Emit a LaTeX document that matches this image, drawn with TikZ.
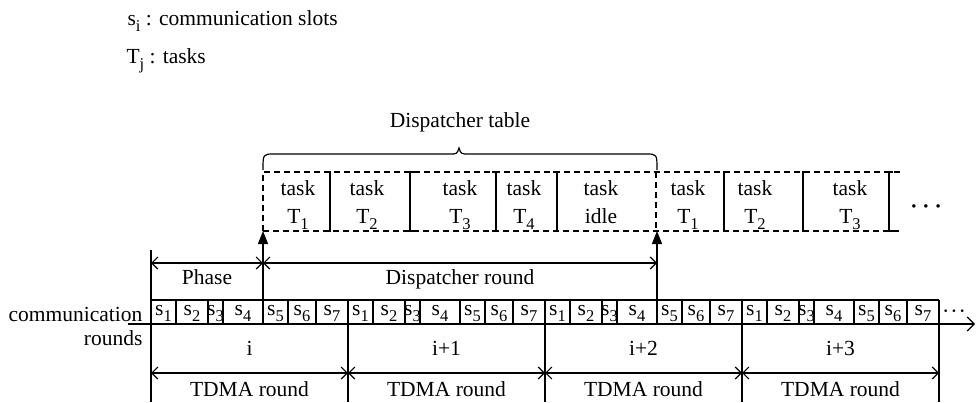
\documentclass[tikz,border=0pt]{standalone}
\usepackage{fontspec}
\setmainfont{Liberation Serif}
\usetikzlibrary{arrows.meta}
\newcommand{\sbs}[1]{\raisebox{-0.32em}{\fontsize{16.5}{16.5}\selectfont #1}}
\begin{document}
\begin{tikzpicture}[x=1pt,y=-1pt,line width=1.2pt,
  txt/.style={font=\fontsize{21.5}{24}\selectfont, inner sep=0pt, anchor=base},
  barbs/.style={{Straight Barb[length=6pt,width=12pt]}-{Straight Barb[length=6pt,width=12pt]}},
  uparrow/.style={-{Triangle[length=13pt,width=10pt]}},
  dashbox/.style={line width=1.8pt, dash pattern=on 6pt off 4pt},
  sepline/.style={line width=1.5pt, solid}]
\useasboundingbox (0,0) rectangle (977,402);

% legend
\node[txt,anchor=base west] (leg1) at (127,25) {s\sbs{i} : communication slots};
\node[txt,anchor=base west] (leg2) at (126,63) {T\sbs{j} : tasks};

% row labels
\node[txt,anchor=base east] (comm) at (143,321) {communication};
\node[txt,anchor=base east] (rnds) at (143,345) {rounds};

% slot row
\coordinate (axs) at (128,324);
\coordinate (axe) at (975,324);
\draw[-{Straight Barb[length=7pt,width=14pt]}] (axs) -- (axe);
\coordinate (topL) at (151,300);
\coordinate (topR) at (939,300);
\draw (topL) -- (topR);
\foreach \r/\x in {0/151,1/348,2/545,3/742} {
  \foreach \a/\b/\k in {0/25/1,25/57/2,57/72/3,72/112/4,112/137/5,137/165/6,165/197/7} {
    \draw (\x+\a,300) -- (\x+\a,324);
    \node[txt] (s\r\k) at ({\x+(\a+\b)/2},315) {s\sbs{\k}};
  }
}
\node[txt,font=\fontsize{16}{18}\selectfont\bfseries] (dots1) at (954,316) {·\hspace{3pt}·\hspace{3pt}·};

% round boundaries
\coordinate (b0t) at (151,250); \coordinate (b0b) at (151,402);
\draw (b0t) -- (b0b);
\foreach \x [count=\i] in {348,545,742} {
  \coordinate (b\i t) at (\x,324); \coordinate (b\i b) at (\x,402);
  \draw (b\i t) -- (b\i b);
}
\coordinate (b4t) at (939,300); \coordinate (b4b) at (939,402);
\draw (b4t) -- (b4b);

% round labels
\node[txt] (ri0) at (249.5,355) {i};
\node[txt] (ri1) at (446.5,355) {i+1};
\node[txt] (ri2) at (643.5,355) {i+2};
\node[txt] (ri3) at (840.5,355) {i+3};

% TDMA arrows
\foreach \a/\b [count=\i] in {151/348,348/545,545/742,742/939} {
  \coordinate (ta\i) at (\a,373); \coordinate (tb\i) at (\b,373);
  \draw[barbs] (ta\i) -- (tb\i);
  \node[txt] (tdma\i) at ({(\a+\b)/2},396) {TDMA round};
}

% phase and dispatcher round
\coordinate (ph0) at (151,263);
\coordinate (ph1) at (263,263);
\coordinate (ph2) at (657,263);
\draw[barbs] (ph0) -- (ph1);
\draw[barbs] (ph1) -- (ph2);
\node[txt] (phase) at (207,284) {Phase};
\node[txt] (dround) at (460,284) {Dispatcher round};

% upward arrows
\coordinate (u1s) at (263,300); \coordinate (u1e) at (263,231);
\coordinate (u2s) at (657,300); \coordinate (u2e) at (657,231);
\draw[uparrow] (u1s) -- (u1e);
\draw[uparrow] (u2s) -- (u2e);

% dispatcher table dashed box
\draw[dashbox] (263,231) -- (263,172) -- (900,172);
\draw[dashbox] (263,231) -- (900,231);
\draw[dashbox] (656,172) -- (656,231);
\foreach \x/\d in {330/-1,410/1,496/-1,557/-1,724/1,803/1,889/1}
  \draw[sepline] (\x+4*\d,172) -- (\x,172) -- (\x,231) -- (\x+4*\d,231);

% task labels
\foreach \cx/\t [count=\i] in {298/T\sbs{1},367/T\sbs{2},460/T\sbs{3},524/T\sbs{4},601/idle,688/T\sbs{1},755/T\sbs{2},850/T\sbs{3}} {
  \node[txt] (tk\i) at (\cx,195) {task};
  \node[txt] (tn\i) at (\cx,223) {\t};
}
\node[txt,font=\fontsize{21.5}{24}\selectfont\bfseries] (dots2) at (926,213) {·\hspace{5pt}·\hspace{5pt}·};

% brace
\draw[line width=1.2pt] (263,170) .. controls (263,154) .. (274,154) -- (449,154)
  .. controls (457,154) .. (459,148) .. controls (461,154) .. (469,154) -- (646,154)
  .. controls (657,154) .. (657,170);
\node[txt] (dtable) at (460,127) {Dispatcher table};
\end{tikzpicture}
\end{document}
